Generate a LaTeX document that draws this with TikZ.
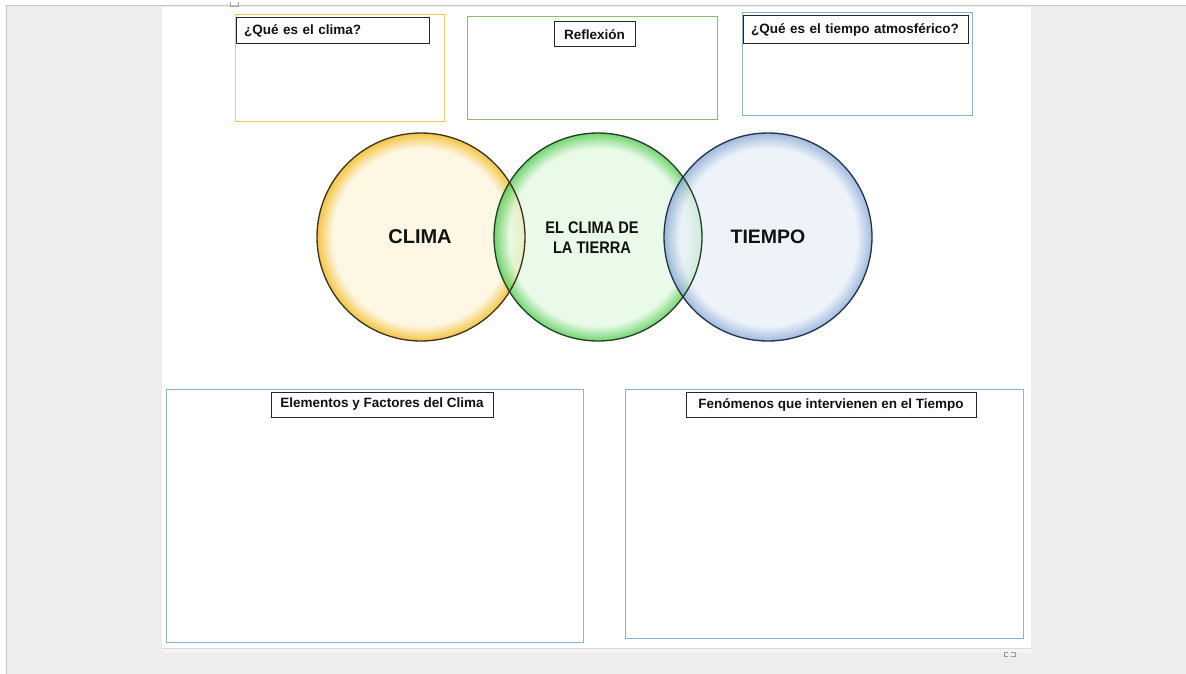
\documentclass[tikz,border=0pt]{standalone}
\usepackage{fontspec}
\usepackage{graphicx}
\setmainfont{Liberation Sans}
\usetikzlibrary{positioning}
\definecolor{panelgray}{HTML}{EDEDED}
\definecolor{panelline}{HTML}{C6C6C6}
\definecolor{pageline}{HTML}{E2D6D6}
\definecolor{yborder}{HTML}{F0CF62}
\definecolor{gborder}{HTML}{8CBE74}
\definecolor{bborder}{HTML}{8DB0CE}
\definecolor{labelc}{HTML}{262626}
\definecolor{yin}{HTML}{FDF7E4}
\definecolor{yrim}{HTML}{F4C443}
\definecolor{gin}{HTML}{E4FAE2}
\definecolor{grim}{HTML}{4CC94C}
\definecolor{bin}{HTML}{EAF0F9}
\definecolor{brim}{HTML}{86A7D4}
\definecolor{yline}{HTML}{3A3220}
\definecolor{gline}{HTML}{1F3F1F}
\definecolor{bline}{HTML}{22304A}
\definecolor{txt}{HTML}{111111}
\pgfdeclareradialshading{yglow}{\pgfpoint{0bp}{0bp}}{color(0bp)=(yin);color(21.3bp)=(yin);color(25bp)=(yrim);color(50bp)=(yrim)}
\pgfdeclareradialshading{gglow}{\pgfpoint{0bp}{0bp}}{color(0bp)=(gin);color(21.3bp)=(gin);color(25bp)=(grim);color(50bp)=(grim)}
\pgfdeclareradialshading{bglow}{\pgfpoint{0bp}{0bp}}{color(0bp)=(bin);color(21.3bp)=(bin);color(25bp)=(brim);color(50bp)=(brim)}
\begin{document}
\begin{tikzpicture}[x=1pt,y=-1pt,
  outerbox/.style={draw, fill=white, line width=1pt, inner sep=0pt},
  labelbox/.style={draw=labelc, fill=white, line width=1pt, inner sep=0pt, text=txt,
    font=\bfseries\fontsize{13.5}{16}\selectfont},
  leftlabel/.style={labelbox, align=left, inner xsep=8pt},
  venn/.style={circle, minimum size=208pt, inner sep=0pt, fill opacity=0.78},
  venntext/.style={text=txt, font=\bfseries\fontsize{20}{24}\selectfont}]
\useasboundingbox (0,0) rectangle (1186,674);
% screen background
\fill[white] (0,0) rectangle (1186,674);
\fill[panelgray] (6,6) rectangle (1186,674);
\draw[panelline, line width=1pt] (6,674) -- (6,6) -- (1186,6);
\fill[white] (162,7) rectangle (1031,648);
\draw[pageline, line width=1pt] (162,648.5) -- (1031,648.5);
\fill[white!96!black] (162,649) rectangle (1031,653);
\draw[gray!70, line width=0.6pt] (230,2) -- (230,6) -- (238,6) -- (238,2);
\draw[gray!80, line width=0.8pt] (1008,656) -- (1004,656) -- (1004,652.5) -- (1008,652.5);
\draw[gray!80, line width=0.8pt] (1011,656) -- (1015,656) -- (1015,652.5) -- (1011,652.5);

% top boxes
\node[outerbox, draw=yborder, minimum width=209pt, minimum height=107pt] (qclima) at (339.5,68.5) {};
\node[leftlabel, text width=177pt, minimum height=26pt] (qclimaL) at (332.5,31) {¿Qué es el clima?};
\node[outerbox, draw=gborder, minimum width=250pt, minimum height=103pt] (refl) at (592,68.5) {};
\node[labelbox, minimum width=81pt, minimum height=25pt] (reflL) at (594.5,34.5) {Reflexión};
\node[outerbox, draw=bborder, minimum width=230pt, minimum height=103pt] (qtiempo) at (857,64.5) {};
\node[leftlabel, text width=209pt, minimum height=28pt] (qtiempoL) at (855.5,30) {¿Qué es el tiempo atmosférico?};

% bottom boxes
\node[outerbox, draw=bborder, minimum width=417pt, minimum height=253pt] (elem) at (374.5,515.5) {};
\node[labelbox, minimum width=222pt, minimum height=25pt] (elemL) at (382,404.5) {Elementos y Factores del Clima};
\node[outerbox, draw=bborder, minimum width=398pt, minimum height=249pt] (fen) at (824,513.5) {};
\node[labelbox, minimum width=290pt, minimum height=25pt] (fenL) at (831,404.5) {Fenómenos que intervienen en el Tiempo};

% venn circles
\node[venn, shading=yglow, fill opacity=1] (clima) at (421,237) {};
\node[venn, shading=gglow] (tierra) at (598,237) {};
\node[venn, shading=bglow] (tiempo) at (768,237) {};
\draw[yline, line width=1.3pt] (clima.center) circle[radius=104];
\draw[gline, line width=1.3pt] (tierra.center) circle[radius=104];
\draw[bline, line width=1.3pt] (tiempo.center) circle[radius=104];
\node[venntext] (climaT) at (420,237) {CLIMA};
\node[venntext, font=\bfseries\fontsize{19.5}{24}\selectfont] (tiempoT) at (768,237) {TIEMPO};
\node[text=txt, align=center, font=\bfseries\fontsize{16.8}{20}\selectfont] (tierraT) at (592,237.5)
  {\scalebox{0.87}[1]{EL CLIMA DE}\\\scalebox{0.87}[1]{LA TIERRA}};
\end{tikzpicture}
\end{document}
